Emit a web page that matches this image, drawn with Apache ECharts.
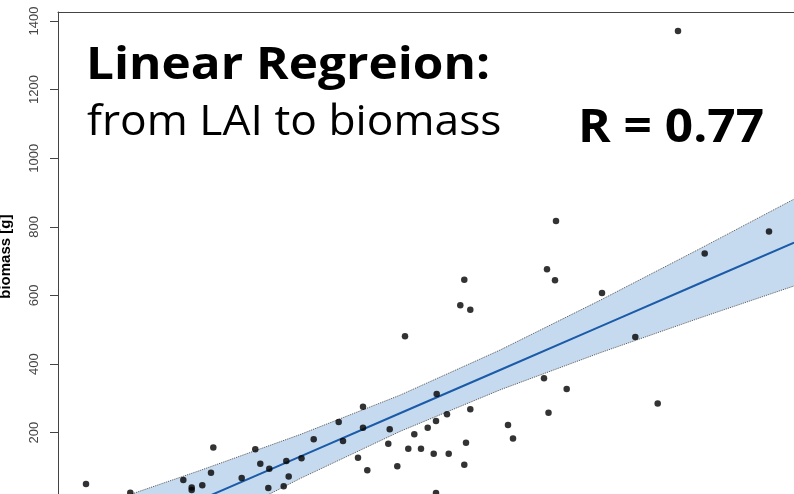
<!DOCTYPE html>
<html>
<head>
<meta charset="utf-8">
<script src="https://cdn.jsdelivr.net/npm/echarts@6/dist/echarts.min.js"></script>
<style>
html,body{margin:0;padding:0;background:#fff;}
#chart{width:794px;height:494px;}
</style>
</head>
<body>
<div id="chart"></div>
<script>
// ---- data ----
// scatter points: [LAI (arbitrary units, axis hidden), biomass [g]]
var points = [
  [0.27, 50.4], [0.713, 25.2], [1.543, 156.7], [1.963, 151.6], [1.243, 61.8],
  [1.52, 83.1], [1.327, 40.5], [1.327, 32.9], [1.433, 46.6], [1.827, 67.9],
  [2.013, 109.6], [2.103, 95.0], [2.273, 117.5], [2.297, 72.6], [2.425, 125.4],
  [4.88, 676.2], [4.053, 645.9], [4.013, 571.3], [4.113, 558.5], [3.46, 480.9],
  [3.777, 312.5], [3.04, 275.5], [2.797, 230.9], [3.04, 214.3], [2.547, 180.5],
  [2.84, 175.6], [3.307, 209.7], [4.113, 268.1], [3.88, 253.5], [3.77, 233.9],
  [3.687, 214.3], [3.553, 195.1], [3.293, 167.9], [3.493, 153.3], [3.62, 153.3],
  [3.747, 138.8], [3.897, 138.8], [4.07, 170.8], [4.053, 106.7], [2.99, 127.1],
  [3.083, 90.3], [3.383, 102.0], [2.093, 38.8], [2.247, 43.7], [3.77, 24.2],
  [4.49, 222.6], [4.54, 182.7], [4.895, 258.1], [4.97, 817.0], [4.96, 644.2],
  [5.43, 607.2], [6.457, 722.0], [7.1, 786.1], [5.763, 479.0], [4.85, 358.5],
  [5.077, 327.3], [5.987, 285.3], [6.19, 1370.9]
];
// regression line and confidence band, read at a few LAI positions
var fitX     = [0.41, 1.41, 2.41, 3.41, 4.41, 5.41, 6.41, 7.35];
var fitY     = [-122.1, 4.1, 130.3, 256.5, 382.7, 509.2, 635.4, 754.1];
var bandUp   = [-10.5, 89.8, 194.4, 309.3, 440.7, 585.6, 736.3, 880.6];
var bandLow  = [-233.8, -81.6, 66.2, 203.7, 324.7, 432.8, 534.6, 627.6];
var yTicks   = [0, 200, 400, 600, 800, 1000, 1200, 1400];

function pairs(xs, ys){ return xs.map(function(x,i){ return [x, ys[i]]; }); }

var chart = echarts.init(document.getElementById('chart'), null, {renderer:'canvas'});
var axisColor = '#444';
chart.setOption({
  animation: false,
  backgroundColor: '#fff',
  grid: { left: 58, top: 12, right: 0, height: 489.3, outerBoundsMode: 'none', containLabel: false },
  xAxis: {
    type: 'value', min: -0.01, max: 7.35, position: 'top',
    axisLine: { show: true, onZero: false, lineStyle: { color: axisColor, width: 1 } },
    axisTick: { show: false }, axisLabel: { show: false }, splitLine: { show: false }
  },
  yAxis: {
    type: 'value', min: 0, max: 1426,
    axisLine: { show: true, onZero: false, lineStyle: { color: axisColor, width: 1 } },
    axisTick: { show: true, length: 8, customValues: yTicks, lineStyle: { color: axisColor } },
    axisLabel: { rotate: 90, customValues: yTicks, margin: 17, fontSize: 13, color: '#444',
                 fontFamily: 'Liberation Sans', formatter: function(v){ return String(v); } },
    splitLine: { show: false },
    name: 'biomass [g]', nameLocation: 'middle', nameGap: 45,
    nameTextStyle: { fontSize: 15, fontWeight: 'bold', color: '#000', fontFamily: 'Liberation Sans' }
  },
  series: [
    { type: 'custom', data: [[fitX[0], fitY[0]]], silent: true, clip: true, z: 1,
      renderItem: function(params, api){
        var pts = [];
        for (var i = 0; i < fitX.length; i++) pts.push(api.coord([fitX[i], bandUp[i]]));
        for (var j = fitX.length - 1; j >= 0; j--) pts.push(api.coord([fitX[j], bandLow[j]]));
        return { type: 'polygon', shape: { points: pts }, style: { fill: '#c6daef' } };
      } },
    { type: 'line', data: pairs(fitX, bandUp), symbol: 'none', z: 2,
      lineStyle: { color: '#555', width: 1, type: 'dotted' } },
    { type: 'line', data: pairs(fitX, bandLow), symbol: 'none', z: 2,
      lineStyle: { color: '#555', width: 1, type: 'dotted' } },
    { type: 'line', data: pairs(fitX, fitY), symbol: 'none', z: 3,
      lineStyle: { color: '#1b5ba8', width: 2 } },
    { type: 'scatter', data: points, symbol: 'circle', symbolSize: 6.5, z: 4,
      itemStyle: { color: '#000' }, clip: false }
  ],
  graphic: [
    { type: 'text', x: 86, y: 66, scaleX: 1.10, style: { text: 'Linear Regreion:', font: 'bold 45px "Open Sans"',
      fill: '#000', textVerticalAlign: 'middle' } },
    { type: 'text', x: 87, y: 123.5, scaleX: 1.056, style: { text: 'from LAI to biomass', font: '42px "Open Sans"',
      fill: '#000', textVerticalAlign: 'middle' } },
    { type: 'text', x: 578, y: 128.5, scaleX: 1.055, style: { text: 'R = 0.77', font: 'bold 47px "Open Sans"',
      fill: '#000', textVerticalAlign: 'middle' } }
  ]
});
</script>
</body>
</html>
